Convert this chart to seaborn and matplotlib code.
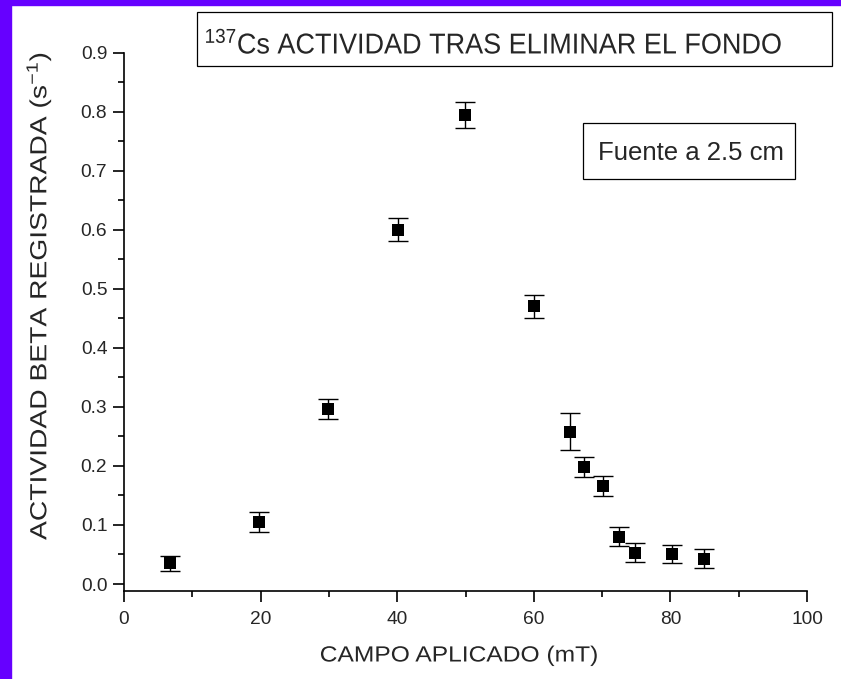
import matplotlib
matplotlib.use("Agg")
import matplotlib.pyplot as plt
import matplotlib.patches as mpatches
from matplotlib.ticker import MultipleLocator, FormatStrFormatter
from matplotlib.patheffects import AbstractPathEffect
from matplotlib.transforms import Affine2D
import seaborn as sns
import pandas as pd

# === data ===
campo = [6.7, 19.8, 29.9, 40.1, 49.9, 60.0, 65.3, 67.3, 70.1, 72.5, 74.8, 80.2, 84.9]
actividad = [0.035, 0.105, 0.297, 0.600, 0.795, 0.470, 0.258, 0.198, 0.166, 0.080, 0.053, 0.051, 0.043]
error = [0.013, 0.017, 0.017, 0.020, 0.022, 0.020, 0.031, 0.017, 0.017, 0.016, 0.016, 0.015, 0.016]

df = pd.DataFrame({"campo": campo, "actividad": actividad, "error": error})


# stretch a text along its own direction (the original labels are not true to the font width)
class Stretch(AbstractPathEffect):
    def __init__(self, sx=1.0):
        super().__init__()
        self.sx = sx

    def draw_path(self, renderer, gc, tpath, affine, rgbFace=None):
        ext = tpath.get_extents()
        cx = (ext.x0 + ext.x1) / 2
        squeeze = Affine2D().translate(-cx, 0).scale(self.sx, 1).translate(cx, 0)
        renderer.draw_path(gc, tpath, squeeze + affine, rgbFace)


sns.set_style("ticks")
plt.rcParams["font.family"] = ["Liberation Sans", "DejaVu Sans"]
plt.rcParams["mathtext.fontset"] = "custom"
plt.rcParams["mathtext.rm"] = "Liberation Sans"
plt.rcParams["mathtext.it"] = "Liberation Sans"

W, H = 841, 679
fig = plt.figure(figsize=(W / 100, H / 100), dpi=100)
ax = fig.add_axes([124 / W, 1 - 590.5 / H, 683 / W, 538 / H])

ax.errorbar(df["campo"], df["actividad"], yerr=df["error"], fmt="none",
            ecolor="black", elinewidth=1.0, capsize=7.5, capthick=1.0, zorder=2)
sns.scatterplot(data=df, x="campo", y="actividad", marker="s", s=70,
                color="black", edgecolor="black", linewidth=0, ax=ax, zorder=3)

ax.set_xlim(0, 100)
ax.set_ylim(-0.011, 0.9)
ax.xaxis.set_major_locator(MultipleLocator(20))
ax.xaxis.set_minor_locator(MultipleLocator(10))
ax.yaxis.set_major_locator(MultipleLocator(0.1))
ax.yaxis.set_minor_locator(MultipleLocator(0.05))
ax.yaxis.set_major_formatter(FormatStrFormatter("%.1f"))
ax.tick_params(which="major", length=8, width=1.2, labelsize=13.8, pad=4, color="black")
ax.tick_params(which="minor", length=4, width=1.2, color="black")
ax.tick_params(axis="x", which="major", pad=7)
for s in ["top", "right"]:
    ax.spines[s].set_visible(False)
for s in ["left", "bottom"]:
    ax.spines[s].set_linewidth(1.2)
    ax.spines[s].set_color("black")

ax.set_xlabel("CAMPO APLICADO (mT)", fontsize=15.8)
ax.xaxis.set_label_coords(335 / 683, -65.5 / 538)
ax.xaxis.label.set_va("center")
ax.xaxis.label.set_path_effects([Stretch(1.12)])

ax.set_ylabel("ACTIVIDAD BETA REGISTRADA (s$^{-1}$)", fontsize=16.8)
ax.yaxis.set_label_coords(-85.5 / 683, 295 / 538)
ax.yaxis.label.set_va("center")
ax.yaxis.label.set_path_effects([Stretch(1.21)])

# title box
fig.patches.append(mpatches.Rectangle((197 / W, 1 - 66 / H), 635 / W, 54 / H,
                                      transform=fig.transFigure, fc="white", ec="black", lw=0.9))
fig.text(493.5 / W, 1 - 53.5 / H, r"$^{137}$Cs ACTIVIDAD TRAS ELIMINAR EL FONDO",
         fontsize=20.7, ha="center", va="baseline", path_effects=[Stretch(0.94)])

# source box
fig.patches.append(mpatches.Rectangle((583 / W, 1 - 179 / H), 212 / W, 56 / H,
                                      transform=fig.transFigure, fc="white", ec="black", lw=0.9))
fig.text(690.5 / W, 1 - 160.5 / H, "Fuente a 2.5 cm", fontsize=18.5, ha="center", va="baseline")

# purple frame on left and top edges
fig.patches.append(mpatches.Rectangle((0, 0), 11 / W, 1, transform=fig.transFigure,
                                      color="#6600ff", zorder=0))
fig.patches.append(mpatches.Rectangle((0, 1 - 5 / H), 1, 5 / H, transform=fig.transFigure,
                                      color="#6600ff", zorder=0))

fig.savefig("out.png", dpi=100)
